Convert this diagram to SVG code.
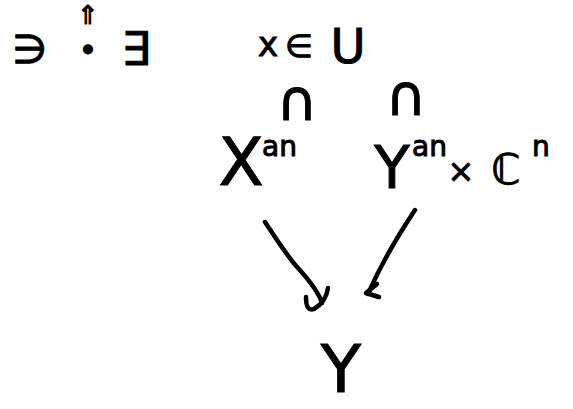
<svg xmlns="http://www.w3.org/2000/svg" width="573" height="409" viewBox="0 0 573 409">
<style>
text{font-family:"DejaVu Sans","Liberation Sans",sans-serif;fill:#000;stroke:#000;stroke-width:1;text-anchor:middle}
.sup{text-anchor:start}
.arr{fill:none;stroke:#000;stroke-width:4.5;stroke-linecap:round;stroke-linejoin:round}
</style>
<rect width="573" height="409" fill="#fff"/>
<g id="n-ni"><text x="30" y="63" font-size="40">∋</text></g>
<g id="n-point"><text x="88" y="24" font-size="26">⇑</text><text x="88" y="61" font-size="32">•</text></g>
<g id="n-exists"><text x="136" y="65" font-size="46">∃</text></g>
<g id="n-xinU"><text x="268" y="56" font-size="34">x</text><text x="299" y="57" font-size="32">∈</text><text x="348" y="63" font-size="48">U</text></g>
<g id="n-incl-left"><text x="297" y="120" font-size="56">∩</text></g>
<g id="n-incl-right"><text x="406" y="115" font-size="56">∩</text></g>
<g id="n-Xan"><text x="241" y="185" font-size="66">X</text><text class="sup" x="262" y="156" font-size="28">an</text></g>
<g id="n-YanCn"><text x="392" y="188" font-size="58">Y</text><text class="sup" x="412" y="156" font-size="28">an</text><text x="461" y="182" font-size="32">×</text><text x="506" y="184" font-size="42">ℂ</text><text class="sup" x="532" y="156" font-size="28">n</text></g>
<g id="n-Y"><text x="341" y="392" font-size="66">Y</text></g>
<g id="connectors">
<path class="arr" d="M265 222 Q290 260 298 268 Q318 290 322 303"/>
<path class="arr" d="M306 297 Q306 312 314 309 Q326 302 328 288"/>
<path class="arr" d="M415 210 Q385 255 368 294"/>
<path class="arr" d="M366 293 L377 284 M366 293 L379 297"/>
</g>
</svg>
